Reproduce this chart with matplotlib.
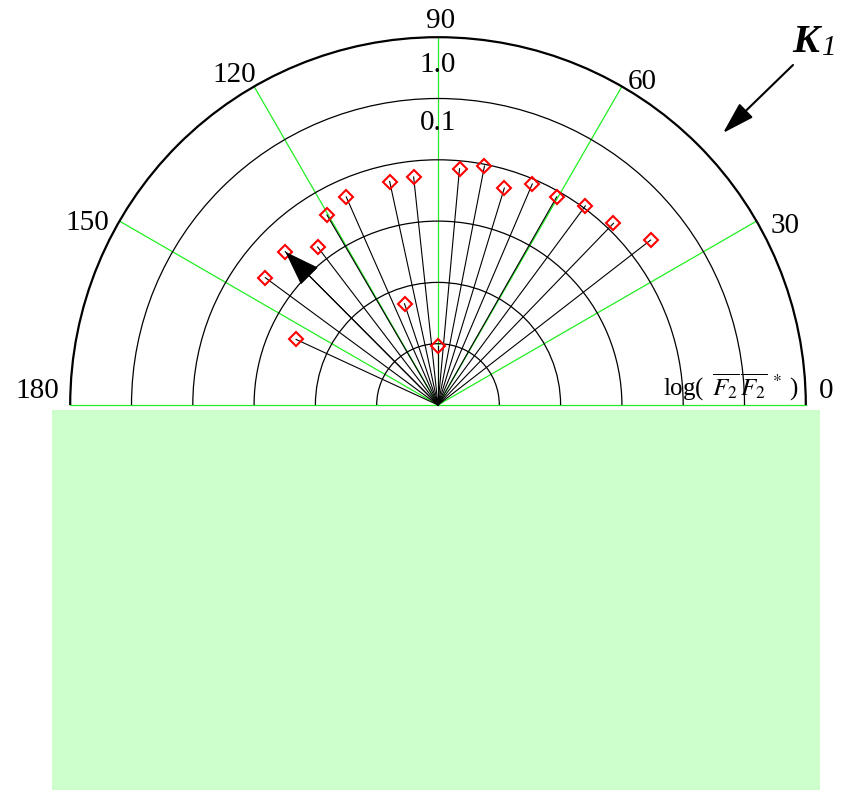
import numpy as np
import matplotlib
matplotlib.use("Agg")
import matplotlib.pyplot as plt
from matplotlib.patches import Rectangle, Arc

plt.rcParams['font.family'] = ['Liberation Serif', 'DejaVu Serif']
plt.rcParams['mathtext.fontset'] = 'stix'

# ---- data -------------------------------------------------------------
# direction of each measurement (degrees) and log10 of |F2|^2
theta_deg = [37.8, 46.0, 53.5, 60.3, 66.9, 73.0, 79.0, 84.8, 90.0,
             96.1, 102.2, 108.3, 113.8, 120.3, 127.3, 134.9, 143.6, 155.2]
log_f2 = [-1.61, -1.88, -1.96, -2.09, -2.08, -2.30, -2.03, -2.13, -5.04,
          -2.26, -2.27, -4.26, -2.29, -2.41, -2.76, -2.47, -2.50, -3.45]
arrow_theta = 134.9        # highlighted direction
arrow_log = -2.47

ring_logs = [-5, -4, -3, -2, -1, 0]       # decades drawn as rings
ring_labels = {0: "1.0", -1: "0.1"}
angle_ticks = [0, 30, 60, 90, 120, 150, 180]
angle_labels = ["0", "30", "60", "90", "120", "150", "180"]
r_min = -6.0

# ---- figure -----------------------------------------------------------
W, H = 851, 791
U = 61.3                     # pixels per decade
cx, cy = 438, 405            # centre in pixels (from top)
fig = plt.figure(figsize=(W / 100, H / 100), dpi=100)
ax = fig.add_axes([0, 0, 1, 1])
ax.set_xlim(-cx / U, (W - cx) / U)
ax.set_ylim(-(H - cy) / U, cy / U)
ax.axis('off')

def pol(th, lg):
    rr = np.asarray(lg) - r_min
    t = np.deg2rad(th)
    return rr * np.cos(t), rr * np.sin(t)

# background lower panel
ax.add_patch(Rectangle((52 / W, 1 / H), (820 - 52) / W, (790 - 410) / H,
                       transform=ax.transAxes, facecolor='#ccffcc',
                       edgecolor='none', zorder=0))

# green spokes
for a in angle_ticks:
    x, y = pol([a, a], [r_min, 0])
    ax.plot(x, y, color='#22ee22', lw=0.9, zorder=1)

# rings
for lg in ring_logs:
    rr = lg - r_min
    lw = 1.6 if lg == 0 else 0.9
    ax.add_patch(Arc((0, 0), 2 * rr, 2 * rr, theta1=0, theta2=180,
                     color='black', lw=lw, zorder=2))

# spokes to data points
xs, ys = pol(theta_deg, log_f2)
for x, y in zip(xs, ys):
    ax.plot([0, x], [0, y], color='black', lw=0.8, zorder=3)
ax.plot(xs, ys, linestyle='none', marker='D', ms=7.2, mfc='none',
        mec='red', mew=1.5, zorder=4)

# highlighted arrow
ax_, ay_ = pol(arrow_theta, arrow_log)
ax.annotate('', xy=(ax_, ay_), xytext=(0, 0),
            arrowprops=dict(arrowstyle='-|>,head_length=2.3,head_width=0.8',
                            color='black', lw=0.8, shrinkA=0, shrinkB=0),
            zorder=5)

# angle labels (offsets in pixels)
offs = {"0": (13, 7, 'left'), "30": (14, -11.5, 'left'), "60": (5.5, -3, 'left'),
        "90": (3, 9, 'center'), "120": (2, 4, 'right'),
        "150": (-10, -8.5, 'right'), "180": (-11, 7, 'right')}
for a, lab in zip(angle_ticks, angle_labels):
    x, y = pol(a, 0)
    dx, dy, ha = offs[lab]
    ax.annotate(lab, xy=(x, y), xytext=(dx, dy), textcoords='offset pixels',
                ha=ha, va='baseline', fontsize=21)

# radial labels
roffs = {0: -35, -1: -32}
for lg, lab in ring_labels.items():
    x, y = pol(90, lg)
    ax.annotate(lab, xy=(x, y), xytext=(0, roffs[lg]), textcoords='offset pixels',
                ha='center', va='baseline', fontsize=21)

# radial axis title
ax.annotate(r'log( $\,\overline{F_2}\,\overline{F_2}^{\;*}\;$)', xy=(pol(0, 0)[0], 0),
            xytext=(-143, 9), textcoords='offset pixels', ha='left',
            va='baseline', fontsize=18)

# K1 label with arrow
fig.text(792 / W, (H - 52) / H, 'K', fontsize=29, fontweight='bold',
         style='italic', ha='left', va='baseline')
fig.text(822 / W, (H - 55) / H, '1', fontsize=21, style='italic',
         ha='left', va='baseline')
ax.annotate('', xy=(723, H - 133), xycoords='figure pixels',
            xytext=(793, H - 65), textcoords='figure pixels',
            arrowprops=dict(arrowstyle='-|>,head_length=2.0,head_width=0.6',
                            color='black', lw=1.5, shrinkA=0, shrinkB=0))

fig.savefig('out.png', dpi=100)
